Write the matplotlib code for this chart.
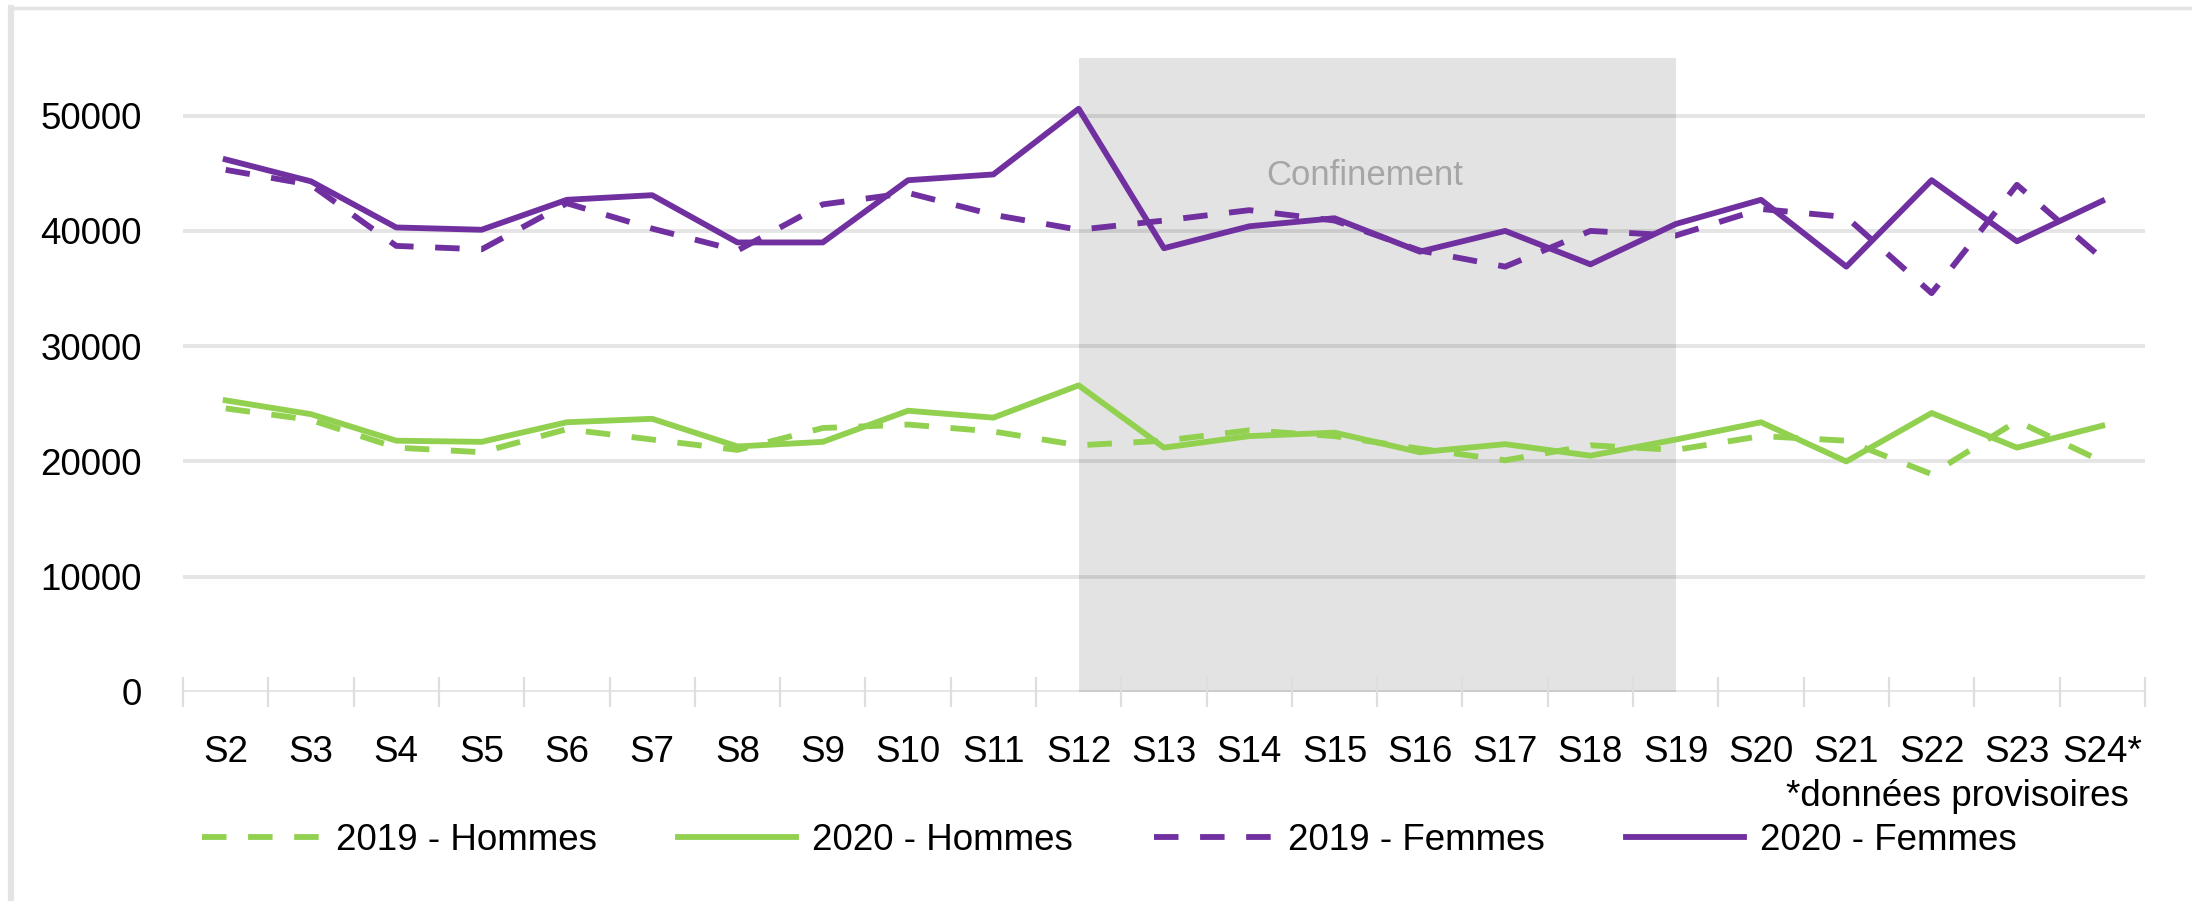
import matplotlib
matplotlib.use('Agg')
import matplotlib.pyplot as plt
from matplotlib.lines import Line2D
from matplotlib import font_manager
import numpy as np

# --- Style ---
# the original uses a narrow Arial; Liberation Sans at a smaller size gives the same widths
names = {f.name for f in font_manager.fontManager.ttflist}
FONT = ['Liberation Sans Narrow', 'Liberation Sans', 'DejaVu Sans']
FONT = [f for f in FONT if f in names] or ['DejaVu Sans']
NARROW = FONT[0] == 'Liberation Sans Narrow'
plt.rcParams['font.family'] = FONT

PURPLE = '#7030A0'
GREEN = '#92D050'
GRID = '#e4e4e4'
SHADE = '#e3e3e3'
FS = 32 if NARROW else 26.5
EM = FS * 100 / 72  # font size in pixels

# --- Data ---
weeks = ['S2', 'S3', 'S4', 'S5', 'S6', 'S7', 'S8', 'S9', 'S10', 'S11', 'S12', 'S13',
         'S14', 'S15', 'S16', 'S17', 'S18', 'S19', 'S20', 'S21', 'S22', 'S23', 'S24*']
hommes_2019 = [24600, 23600, 21200, 20800, 22800, 21900, 21000, 22900, 23200, 22600, 21400, 21800,
               22700, 22200, 21100, 20100, 21400, 21000, 22200, 21800, 18900, 23500, 20000]
hommes_2020 = [25300, 24100, 21800, 21700, 23400, 23700, 21300, 21700, 24400, 23800, 26600, 21200,
               22200, 22500, 20800, 21500, 20500, 21900, 23400, 20000, 24200, 21200, 23100]
femmes_2019 = [45300, 44000, 38700, 38400, 42400, 40200, 38300, 42300, 43300, 41400, 40100, 40900,
               41800, 40900, 38300, 36900, 40000, 39600, 41900, 41200, 34600, 44000, 37600]
femmes_2020 = [46200, 44300, 40300, 40100, 42700, 43100, 39000, 39000, 44400, 44900, 50600, 38500,
               40400, 41100, 38200, 40000, 37100, 40600, 42700, 36900, 44400, 39100, 42600]
confinement = ('S12', 'S19')
yticks = [0, 10000, 20000, 30000, 40000, 50000]

x = np.arange(len(weeks))

# --- Plot ---
fig = plt.figure(figsize=(21.92, 9.01), dpi=100)
ax = fig.add_axes([0.0835, 0.232, 0.895, 0.7036])

c0, c1 = weeks.index(confinement[0]), weeks.index(confinement[1])
ax.fill_between([c0, c1], 0, 55000, color=SHADE, lw=0, zorder=1)
ax.text((c0 + c1) / 2 - 0.15, 44800, 'Confinement', color='#a6a6a6', fontsize=FS - 1.5,
        ha='center', va='center', zorder=2)

for v in yticks:
    ax.axhline(v, color='black', alpha=0.1, lw=2.8, zorder=1.5)

lw = 4.2
dash = (0, (4.2, 3.7))
ax.plot(x, hommes_2019, color=GREEN, lw=lw, ls=dash, label='2019 - Hommes', zorder=3)
ax.plot(x, hommes_2020, color=GREEN, lw=lw, label='2020 - Hommes', zorder=3)
ax.plot(x, femmes_2019, color=PURPLE, lw=lw, ls=dash, label='2019 - Femmes', zorder=3)
ax.plot(x, femmes_2020, color=PURPLE, lw=lw, label='2020 - Femmes', zorder=3)

ax.set_xlim(-0.5, len(weeks) - 0.5)
ax.set_ylim(0, 55000)
ax.set_yticks(yticks)
ax.set_yticklabels([str(v) for v in yticks])
ax.set_xticks(x)
ax.set_xticklabels(weeks)
ax.set_xticks(np.arange(len(weeks) + 1) - 0.5, minor=True)
ax.tick_params(axis='x', which='major', length=0, pad=31, labelsize=FS)
ax.tick_params(axis='x', which='minor', direction='inout', length=21.6, width=1.6, color='#dedede')
ax.tick_params(axis='y', length=0, pad=29.5, labelsize=FS)
for s in ax.spines.values():
    s.set_visible(False)

fig.text(0.9713, 0.1160, '*données provisoires', fontsize=FS, ha='right', va='center')

fig.legend(loc='center', bbox_to_anchor=(0.506, 0.0670), ncol=4, frameon=False,
           fontsize=FS, handlelength=118 / EM, handletextpad=16 / EM, columnspacing=81 / EM)

# light frame (top and left edges)
fig.add_artist(Line2D([10 / 2192, 1], [1 - 8 / 901, 1 - 8 / 901], color=GRID, lw=2.5,
                      transform=fig.transFigure))
fig.add_artist(Line2D([11 / 2192, 11 / 2192], [0, 1 - 8 / 901], color=GRID, lw=4.5,
                      transform=fig.transFigure))

fig.savefig('out.png', dpi=100)
plt.close()
